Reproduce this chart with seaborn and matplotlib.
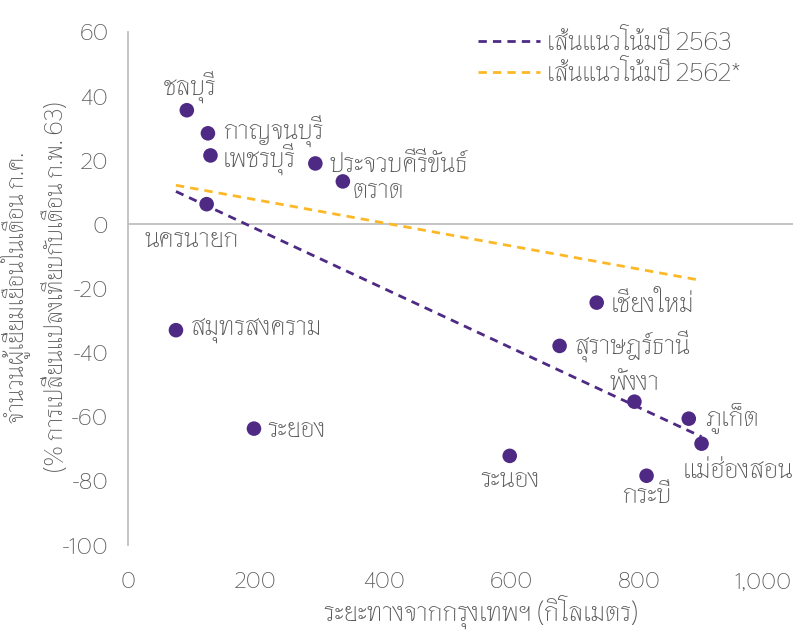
import matplotlib
matplotlib.use("Agg")
import matplotlib.pyplot as plt
from matplotlib.lines import Line2D
from matplotlib.transforms import ScaledTranslation
import seaborn as sns
import pandas as pd

# ---- data ----
provinces = ["ชลบุรี", "กาญจนบุรี", "เพชรบุรี", "ประจวบคีรีขันธ์", "ตราด", "นครนายก",
             "สมุทรสงคราม", "ระยอง", "เชียงใหม่", "สุราษฎร์ธานี", "พังงา", "ภูเก็ต",
             "แม่ฮ่องสอน", "ระนอง", "กระบี่"]
distance_km = [92, 125, 129, 293, 336, 123, 75, 197, 733, 675, 792, 877, 897, 597, 811]
change_pct = [35.6, 28.4, 21.5, 19.0, 13.4, 6.3, -33.0, -63.7, -24.4, -37.9, -55.3, -60.6,
              -68.4, -72.2, -78.4]
trend_2562_x = [75, 897]
trend_2562_y = [12.2, -17.5]
legend_labels = ["เส้นแนวโน้มปี 2563", "เส้นแนวโน้มปี 2562*"]
x_ticks = [0, 200, 400, 600, 800, 1000]
x_ticklabels = ["0", "200", "400", "600", "800", "1,000"]
y_ticks = [-100, -80, -60, -40, -20, 0, 20, 40, 60]
x_label = "ระยะทางจากกรุงเทพฯ (กิโลเมตร)"
y_label = "จำนวนผู้เยี่ยมเยือนในเดือน ก.ค.\n(% การเปลี่ยนแปลงเทียบกับเดือน ก.พ. 63)"

df = pd.DataFrame({"province": provinces, "distance": distance_km, "change": change_pct})

# ---- style ----
sns.set_style("white")
FONT = ["Thasadith", "DejaVu Sans"]
plt.rcParams["font.family"] = FONT
plt.rcParams["axes.unicode_minus"] = False
PURPLE = "#4E2A84"
ORANGE = "#FDB827"
TEXT = "#595959"
GRID = "#BFBFBF"
LBL = 19.5

fig = plt.figure(figsize=(7.93, 6.35), dpi=100)
ax = fig.add_axes([128 / 793, 1 - 545 / 635, (793 - 128) / 793, (545 - 32) / 635])

ax.axhline(0, color=GRID, lw=1.3, zorder=1)

sns.regplot(data=df, x="distance", y="change", scatter=False, ci=None, ax=ax,
            line_kws=dict(color=PURPLE, lw=2.0, linestyle=(0, (3, 2.2)), zorder=2))
sns.lineplot(x=trend_2562_x, y=trend_2562_y, ax=ax, color=ORANGE, lw=2.0,
             linestyle=(0, (3, 2.2)), zorder=2)
sns.scatterplot(data=df, x="distance", y="change", ax=ax, color=PURPLE, s=110,
                edgecolor="none", zorder=3, legend=False)

# label placement (pixel offsets, alignment)
place = {
    "ชลบุรี": (3, 23, "center"),
    "กาญจนบุรี": (15, 3, "left"),
    "เพชรบุรี": (12, -3, "left"),
    "ประจวบคีรีขันธ์": (14, 0, "left"),
    "ตราด": (10, -9, "left"),
    "นครนายก": (-15, -35, "center"),
    "สมุทรสงคราม": (15, 0, "left"),
    "ระยอง": (13, 0, "left"),
    "เชียงใหม่": (14, 0, "left"),
    "สุราษฎร์ธานี": (15, 0, "left"),
    "พังงา": (0, 20, "center"),
    "ภูเก็ต": (16, 0, "left"),
    "แม่ฮ่องสอน": (36, -26, "center"),
    "ระนอง": (0, -23, "center"),
    "กระบี่": (0, -19, "center"),
}
for name, xv, yv in zip(provinces, distance_km, change_pct):
    dx, dy, ha = place[name]
    ax.annotate(name, (xv, yv), xytext=(dx, dy), textcoords="offset pixels",
                ha=ha, va="center", fontsize=LBL, color=TEXT, family=FONT)

ax.set_xlim(0, 1040)
ax.set_ylim(-100, 60)
ax.set_xticks(x_ticks)
ax.set_xticklabels(x_ticklabels)
ax.set_yticks(y_ticks)
ax.tick_params(axis="both", length=0, labelsize=17, labelcolor=TEXT)
ax.tick_params(axis="x", pad=19, labelsize=16.5)
ax.tick_params(axis="y", pad=14)
last = ax.get_xticklabels()[-1]
last.set_transform(last.get_transform() + ScaledTranslation(-4 / 100, 0, fig.dpi_scale_trans))

for s in ["top", "right", "bottom"]:
    ax.spines[s].set_visible(False)
ax.spines["left"].set_color(GRID)
ax.spines["left"].set_linewidth(1.3)

ax.set_xlabel(x_label, fontsize=LBL, color=TEXT, va="center")
ax.xaxis.set_label_coords((481 - 128) / 665, (545 - 612) / 513)
ax.set_ylabel(y_label, fontsize=17.5, color=TEXT, va="center", ha="center",
              linespacing=1.5, multialignment="center")
ax.yaxis.set_label_coords((33 - 128) / 665, (545 - 287) / 513)

handles = [Line2D([], [], color=PURPLE, lw=2.0, linestyle=(0, (3, 2.2))),
           Line2D([], [], color=ORANGE, lw=2.0, linestyle=(0, (3, 2.2)))]
leg = ax.legend(handles, legend_labels, loc="upper left", frameon=False,
                bbox_to_anchor=(478 / 793, 1 - 28 / 635), bbox_transform=fig.transFigure,
                fontsize=18.5, handlelength=2.4, handletextpad=0.3, labelspacing=0.2,
                borderpad=0, borderaxespad=0)
for t in leg.get_texts():
    t.set_color(TEXT)

fig.savefig("out.png", dpi=100)
